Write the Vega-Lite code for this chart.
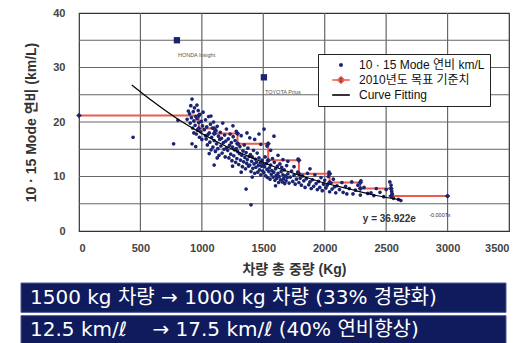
{
  "$schema": "https://vega.github.io/schema/vega-lite/v6.json",
  "padding": {"left": 20, "top": 6, "right": 0, "bottom": 0},
  "background": "white",
  "spacing": 5,
  "config": {
    "font": "Liberation Sans, Noto Sans CJK KR",
    "axis": {"ticks": false, "domain": false, "grid": false,
      "labelFontSize": 11, "labelFontWeight": "bold", "labelColor": "#444", "labelOverlap": false,
      "titleFontSize": 14, "titleFontWeight": "bold", "titleColor": "#333",
      "labelFont": "Liberation Sans", "titleFont": "Liberation Sans, Noto Sans CJK KR"}
  },
  "datasets": {
    "grid": [
      {"gid":"x500","w":500,"fe":0},{"gid":"x500","w":500,"fe":40},
      {"gid":"x1000","w":1000,"fe":0},{"gid":"x1000","w":1000,"fe":40},
      {"gid":"x1500","w":1500,"fe":0},{"gid":"x1500","w":1500,"fe":40},
      {"gid":"x2000","w":2000,"fe":0},{"gid":"x2000","w":2000,"fe":40},
      {"gid":"x2500","w":2500,"fe":0},{"gid":"x2500","w":2500,"fe":40},
      {"gid":"x3000","w":3000,"fe":0},{"gid":"x3000","w":3000,"fe":40},
      {"gid":"y5","w":0,"fe":5},{"gid":"y5","w":3500,"fe":5},
      {"gid":"y10","w":0,"fe":10},{"gid":"y10","w":3500,"fe":10},
      {"gid":"y15","w":0,"fe":15},{"gid":"y15","w":3500,"fe":15},
      {"gid":"y20","w":0,"fe":20},{"gid":"y20","w":3500,"fe":20},
      {"gid":"y25","w":0,"fe":25},{"gid":"y25","w":3500,"fe":25},
      {"gid":"y30","w":0,"fe":30},{"gid":"y30","w":3500,"fe":30},
      {"gid":"y35","w":0,"fe":35},{"gid":"y35","w":3500,"fe":35}
    ],
    "scatter": [
      {"w":440,"fe":17.2},{"w":770,"fe":16.0},{"w":805,"fe":20.3},{"w":1100,"fe":12.1},{"w":1360,"fe":7.7},{"w":1400,"fe":4.8},
      {"w":1074,"fe":21.1},{"w":1253,"fe":19.3},{"w":1465,"fe":17.8},{"w":1367,"fe":18.0},{"w":1506,"fe":18.7},{"w":1587,"fe":17.4},{"w":1783,"fe":13.2},{"w":2035,"fe":10.8},
      {"w":880,"fe":20.5},{"w":890,"fe":22.0},{"w":900,"fe":21.5},{"w":905,"fe":19.8},{"w":910,"fe":23.0},{"w":915,"fe":20.8},{"w":920,"fe":24.2},{"w":925,"fe":18.9},{"w":930,"fe":21.9},{"w":935,"fe":20.2},{"w":940,"fe":22.6},{"w":945,"fe":19.4},{"w":950,"fe":21.0},{"w":955,"fe":17.8},{"w":960,"fe":20.6},{"w":965,"fe":18.5},{"w":970,"fe":22.1},{"w":975,"fe":19.9},{"w":980,"fe":17.2},{"w":985,"fe":21.4},{"w":990,"fe":18.2},{"w":995,"fe":20.1},{"w":1000,"fe":16.8},{"w":1005,"fe":19.3},{"w":1010,"fe":21.8},{"w":920,"fe":16.0},{"w":950,"fe":15.5},{"w":935,"fe":18.0},{"w":960,"fe":23.1},
      {"w":1020,"fe":18.6},{"w":1030,"fe":20.4},{"w":1035,"fe":16.9},{"w":1040,"fe":19.1},{"w":1045,"fe":15.8},{"w":1050,"fe":17.7},{"w":1055,"fe":21.0},{"w":1060,"fe":18.0},{"w":1065,"fe":16.3},{"w":1070,"fe":19.6},{"w":1075,"fe":14.9},{"w":1080,"fe":17.2},{"w":1085,"fe":18.9},{"w":1090,"fe":15.4},{"w":1095,"fe":20.0},{"w":1100,"fe":16.6},{"w":1105,"fe":17.9},{"w":1110,"fe":14.6},{"w":1115,"fe":18.4},{"w":1120,"fe":16.0},{"w":1125,"fe":19.2},{"w":1130,"fe":15.1},{"w":1135,"fe":17.4},{"w":1140,"fe":13.9},{"w":1145,"fe":16.8},{"w":1150,"fe":18.1},{"w":1155,"fe":15.6},{"w":1160,"fe":17.0},{"w":1165,"fe":14.3},{"w":1170,"fe":19.8},{"w":1175,"fe":16.2},{"w":1180,"fe":15.0},{"w":1185,"fe":17.6},{"w":1190,"fe":13.6},{"w":1195,"fe":16.5},{"w":1200,"fe":15.2},{"w":1200,"fe":18.7},{"w":1060,"fe":14.2},{"w":1125,"fe":13.4},{"w":1030,"fe":17.5},
      {"w":1210,"fe":14.8},{"w":1215,"fe":16.9},{"w":1220,"fe":13.4},{"w":1225,"fe":15.7},{"w":1230,"fe":17.8},{"w":1235,"fe":14.1},{"w":1240,"fe":16.2},{"w":1245,"fe":12.9},{"w":1250,"fe":15.4},{"w":1255,"fe":17.3},{"w":1260,"fe":13.8},{"w":1265,"fe":14.9},{"w":1270,"fe":16.6},{"w":1275,"fe":12.6},{"w":1280,"fe":15.1},{"w":1285,"fe":13.3},{"w":1290,"fe":14.6},{"w":1295,"fe":16.0},{"w":1300,"fe":12.2},{"w":1305,"fe":14.2},{"w":1310,"fe":15.5},{"w":1315,"fe":13.0},{"w":1320,"fe":17.5},{"w":1325,"fe":13.9},{"w":1330,"fe":11.8},{"w":1335,"fe":14.7},{"w":1340,"fe":12.7},{"w":1345,"fe":15.8},{"w":1350,"fe":13.5},{"w":1355,"fe":11.4},{"w":1360,"fe":14.4},{"w":1365,"fe":12.4},{"w":1370,"fe":13.1},{"w":1375,"fe":15.2},{"w":1380,"fe":11.9},{"w":1385,"fe":13.7},{"w":1390,"fe":12.1},{"w":1395,"fe":14.0},{"w":1400,"fe":10.9},{"w":1405,"fe":12.8},{"w":1410,"fe":13.6},{"w":1415,"fe":11.5},{"w":1420,"fe":14.8},{"w":1425,"fe":12.3},{"w":1430,"fe":10.6},{"w":1435,"fe":13.2},{"w":1440,"fe":11.7},{"w":1445,"fe":12.6},{"w":1450,"fe":14.3},{"w":1455,"fe":10.8},{"w":1460,"fe":12.0},{"w":1465,"fe":13.4},{"w":1470,"fe":11.2},{"w":1475,"fe":12.5},{"w":1480,"fe":10.3},{"w":1485,"fe":11.9},{"w":1490,"fe":13.0},{"w":1495,"fe":11.0},{"w":1500,"fe":12.2},{"w":1430,"fe":16.8},{"w":1480,"fe":15.9},{"w":1390,"fe":17.1},{"w":1250,"fe":11.9},{"w":1320,"fe":10.8},{"w":1410,"fe":9.9},{"w":1280,"fe":18.3},
      {"w":1505,"fe":10.7},{"w":1510,"fe":11.8},{"w":1515,"fe":13.6},{"w":1520,"fe":10.1},{"w":1525,"fe":12.4},{"w":1530,"fe":11.3},{"w":1535,"fe":9.8},{"w":1540,"fe":12.9},{"w":1545,"fe":10.9},{"w":1550,"fe":11.6},{"w":1555,"fe":9.5},{"w":1560,"fe":12.1},{"w":1565,"fe":10.4},{"w":1570,"fe":11.1},{"w":1575,"fe":13.3},{"w":1580,"fe":9.9},{"w":1585,"fe":10.8},{"w":1590,"fe":12.6},{"w":1595,"fe":9.3},{"w":1600,"fe":11.4},{"w":1605,"fe":10.2},{"w":1610,"fe":9.7},{"w":1615,"fe":11.9},{"w":1620,"fe":10.6},{"w":1625,"fe":8.9},{"w":1630,"fe":10.0},{"w":1635,"fe":12.3},{"w":1640,"fe":9.4},{"w":1645,"fe":10.9},{"w":1650,"fe":11.7},{"w":1655,"fe":9.0},{"w":1660,"fe":10.3},{"w":1665,"fe":9.6},{"w":1670,"fe":11.2},{"w":1675,"fe":8.7},{"w":1680,"fe":10.1},{"w":1685,"fe":9.2},{"w":1690,"fe":12.0},{"w":1695,"fe":9.8},{"w":1700,"fe":10.5},{"w":1710,"fe":8.8},{"w":1720,"fe":9.9},{"w":1730,"fe":11.0},{"w":1740,"fe":9.1},{"w":1750,"fe":10.2},{"w":1760,"fe":8.6},{"w":1770,"fe":9.5},{"w":1780,"fe":10.8},{"w":1790,"fe":8.9},{"w":1800,"fe":9.7},{"w":1560,"fe":14.8},{"w":1620,"fe":13.9},{"w":1700,"fe":12.8},{"w":1750,"fe":11.8},{"w":1600,"fe":8.3},{"w":1530,"fe":15.6},{"w":1660,"fe":13.1},
      {"w":1810,"fe":8.4},{"w":1820,"fe":10.1},{"w":1830,"fe":9.2},{"w":1840,"fe":8.0},{"w":1850,"fe":9.6},{"w":1860,"fe":10.6},{"w":1870,"fe":8.5},{"w":1880,"fe":9.0},{"w":1890,"fe":7.8},{"w":1900,"fe":9.4},{"w":1910,"fe":8.2},{"w":1920,"fe":10.3},{"w":1930,"fe":8.7},{"w":1940,"fe":7.6},{"w":1950,"fe":9.1},{"w":1960,"fe":8.0},{"w":1970,"fe":9.8},{"w":1980,"fe":7.4},{"w":1990,"fe":8.6},{"w":2000,"fe":9.3},{"w":2010,"fe":7.9},{"w":2020,"fe":8.4},{"w":2030,"fe":10.0},{"w":2040,"fe":7.2},{"w":2050,"fe":8.8},{"w":2060,"fe":7.7},{"w":2070,"fe":9.5},{"w":2080,"fe":8.1},{"w":2090,"fe":7.0},{"w":2100,"fe":8.3},{"w":1880,"fe":11.4},
      {"w":2120,"fe":7.6},{"w":2140,"fe":8.9},{"w":2150,"fe":7.1},{"w":2170,"fe":8.2},{"w":2180,"fe":6.8},{"w":2200,"fe":7.8},{"w":2220,"fe":9.0},{"w":2230,"fe":6.8},{"w":2250,"fe":7.5},{"w":2270,"fe":8.4},{"w":2290,"fe":6.6},{"w":2295,"fe":9.2},{"w":2320,"fe":8.0},{"w":2350,"fe":6.9},{"w":2377,"fe":7.0},{"w":2400,"fe":6.5},{"w":2420,"fe":7.8},{"w":2450,"fe":7.1},{"w":2480,"fe":6.3},{"w":2500,"fe":7.6},{"w":2530,"fe":9.0},{"w":2540,"fe":8.4},{"w":2545,"fe":7.3},{"w":2550,"fe":6.8},{"w":2560,"fe":6.0},{"w":2600,"fe":5.8},{"w":2620,"fe":5.6}
    ],
    "standard": [
      {"i":1,"w":0,"fe":21.2},{"i":2,"w":975,"fe":21.2},{"i":3,"w":975,"fe":18.8},{"i":4,"w":1100,"fe":18.8},
      {"i":5,"w":1100,"fe":17.9},{"i":6,"w":1290,"fe":17.9},{"i":7,"w":1290,"fe":16.0},{"i":8,"w":1540,"fe":16.0},
      {"i":9,"w":1540,"fe":13.0},{"i":10,"w":1790,"fe":13.0},{"i":11,"w":1790,"fe":10.5},{"i":12,"w":2040,"fe":10.5},
      {"i":13,"w":2040,"fe":8.9},{"i":14,"w":2290,"fe":8.9},{"i":15,"w":2290,"fe":7.8},{"i":16,"w":2540,"fe":7.8},
      {"i":17,"w":2540,"fe":6.4},{"i":18,"w":3000,"fe":6.4}
    ],
    "curve": [
      {"w":430,"fe":26.8},{"w":600,"fe":23.8},{"w":800,"fe":20.6},{"w":1000,"fe":17.9},{"w":1200,"fe":15.5},{"w":1400,"fe":13.5},
      {"w":1600,"fe":11.7},{"w":1800,"fe":10.2},{"w":2000,"fe":8.8},{"w":2200,"fe":7.7},{"w":2400,"fe":6.6},{"w":2620,"fe":5.7}
    ],
    "special": [
      {"w":797,"fe":35.0,"name":"HONDA Insight"},{"w":1505,"fe":28.2,"name":"TOYOTA Prius"}
    ],
    "equation": [
      {"w":2310,"fe":2.2,"eq":"y = 36.922e","part":"base"},
      {"w":2850,"fe":2.9,"eq":"-0.0007x","part":"exp"}
    ]
  },
  "vconcat": [
    {
      "width": 430,
      "height": 218,
      "view": {"stroke": "#333", "strokeWidth": 1.2},
      "layer": [
        {
          "data": {"name": "grid"},
          "mark": {"type": "line", "stroke": "#666666", "strokeWidth": 1.2, "strokeOpacity": 1, "opacity": 1},
          "encoding": {
            "x": {"field": "w", "type": "quantitative", "scale": {"domain": [0, 3500], "nice": false},
              "axis": {"values": [0,500,1000,1500,2000,2500,3000,3500], "format": "d", "title": "차량 총 중량 (Kg)", "labelPadding": 11, "titlePadding": 9}},
            "y": {"field": "fe", "type": "quantitative", "scale": {"domain": [0, 40], "nice": false},
              "axis": {"values": [0,5,10,15,20,25,30,35,40], "format": "d", "title": "10 · 15 Mode 연비 (km/L)", "labelPadding": 14, "titlePadding": 14}},
            "detail": {"field": "gid", "type": "nominal"}
          }
        },
        {
          "data": {"name": "standard"},
          "mark": {"type": "line", "strokeWidth": 2},
          "encoding": {
            "x": {"field": "w", "type": "quantitative"},
            "y": {"field": "fe", "type": "quantitative"},
            "order": {"field": "i"},
            "stroke": {"datum": "2010년도 목표 기준치", "type": "nominal"}
          }
        },
        {
          "data": {"name": "scatter"},
          "mark": {"type": "point", "filled": true, "size": 55, "opacity": 1, "strokeWidth": 1.5},
          "encoding": {
            "x": {"field": "w", "type": "quantitative"},
            "y": {"field": "fe", "type": "quantitative"},
            "fill": {"datum": "10 · 15 Mode 연비 km/L", "type": "nominal",
              "scale": {"domain": ["10 · 15 Mode 연비 km/L", "2010년도 목표 기준치", "Curve Fitting"], "range": ["#1b2470", "#1b2470", "transparent"]},
              "legend": {"title": null, "orient": "none", "legendX": 239, "legendY": 41,
                "fillColor": "white", "strokeColor": "#222", "padding": 5, "rowPadding": 2,
                "symbolSize": 64, "symbolStrokeWidth": 1.6, "symbolOffset": 12, "labelOffset": 12, "labelFontSize": 12, "labelColor": "#111", "labelLimit": 300,
                "labelFont": "Liberation Sans, Noto Sans CJK KR"}},
            "stroke": {"datum": "10 · 15 Mode 연비 km/L", "type": "nominal",
              "scale": {"domain": ["10 · 15 Mode 연비 km/L", "2010년도 목표 기준치", "Curve Fitting"], "range": ["transparent", "#ec5b4c", "#000000"]},
              "legend": {"title": null, "orient": "none", "legendX": 239, "legendY": 41,
                "fillColor": "white", "strokeColor": "#222", "padding": 5, "rowPadding": 2,
                "symbolSize": 64, "symbolStrokeWidth": 1.6, "symbolOffset": 12, "labelOffset": 12, "labelFontSize": 12, "labelColor": "#111", "labelLimit": 300,
                "labelFont": "Liberation Sans, Noto Sans CJK KR"}},
            "shape": {"datum": "10 · 15 Mode 연비 km/L", "type": "nominal",
              "scale": {"domain": ["10 · 15 Mode 연비 km/L", "2010년도 목표 기준치", "Curve Fitting"], "range": ["M-0.5,0A0.5,0.5 0 1,0 0.5,0A0.5,0.5 0 1,0 -0.5,0Z", "M-2.2,0H2.2M0,-0.8L0.8,0L0,0.8L-0.8,0Z", "M-2.2,0H2.2"]},
              "legend": {"title": null, "orient": "none", "legendX": 239, "legendY": 41,
                "fillColor": "white", "strokeColor": "#222", "padding": 5, "rowPadding": 2,
                "symbolSize": 64, "symbolStrokeWidth": 1.6, "symbolOffset": 12, "labelOffset": 12, "labelFontSize": 12, "labelColor": "#111", "labelLimit": 300,
                "labelFont": "Liberation Sans, Noto Sans CJK KR"}}
          }
        },
        {
          "data": {"name": "standard"},
          "mark": {"type": "point", "shape": "diamond", "filled": true, "size": 30, "color": "#1b2470", "opacity": 1},
          "encoding": {
            "x": {"field": "w", "type": "quantitative"},
            "y": {"field": "fe", "type": "quantitative"}
          }
        },
        {
          "data": {"name": "curve"},
          "mark": {"type": "line", "strokeWidth": 1.2, "interpolate": "monotone"},
          "encoding": {
            "x": {"field": "w", "type": "quantitative"},
            "y": {"field": "fe", "type": "quantitative"},
            "stroke": {"datum": "Curve Fitting", "type": "nominal"}
          }
        },
        {
          "data": {"name": "special"},
          "mark": {"type": "square", "size": 40, "color": "#1b2470", "opacity": 1, "filled": true},
          "encoding": {
            "x": {"field": "w", "type": "quantitative"},
            "y": {"field": "fe", "type": "quantitative"}
          }
        },
        {
          "data": {"name": "special"},
          "mark": {"type": "text", "align": "left", "dx": 1, "dy": 15, "fontSize": 5.5, "color": "#555"},
          "encoding": {
            "x": {"field": "w", "type": "quantitative"},
            "y": {"field": "fe", "type": "quantitative"},
            "text": {"field": "name"}
          }
        },
        {
          "data": {"name": "equation"},
          "transform": [{"filter": "datum.part === 'base'"}],
          "mark": {"type": "text", "align": "left", "baseline": "middle", "fontSize": 10, "fontWeight": "bold", "color": "#333"},
          "encoding": {
            "x": {"field": "w", "type": "quantitative"},
            "y": {"field": "fe", "type": "quantitative"},
            "text": {"field": "eq"}
          }
        },
        {
          "data": {"name": "equation"},
          "transform": [{"filter": "datum.part === 'exp'"}],
          "mark": {"type": "text", "align": "left", "baseline": "middle", "fontSize": 5.5, "color": "#333"},
          "encoding": {
            "x": {"field": "w", "type": "quantitative"},
            "y": {"field": "fe", "type": "quantitative"},
            "text": {"field": "eq"}
          }
        }
      ]
    },
    {
      "width": 430,
      "height": 62,
      "view": {"stroke": null},
      "data": {"values": [
        {"row": 1, "msg": "1500 kg 차량 → 1000 kg 차량 (33% 경량화)"},
        {"row": 2, "msg": "12.5 km/ℓ\u00a0\u00a0\u00a0\u00a0→ 17.5 km/ℓ (40% 연비향상)"}
      ]},
      "encoding": {
        "y": {"field": "row", "type": "ordinal", "axis": null, "scale": {"paddingInner": 0.1, "paddingOuter": 0}}
      },
      "layer": [
        {
          "mark": {"type": "rect", "color": "#0f1b5c", "stroke": "#4a5a98", "strokeWidth": 1},
          "encoding": {
            "x": {"datum": 0, "type": "quantitative", "scale": {"domain": [0, 1], "range": [-58, 427]}, "axis": null},
            "x2": {"datum": 1}
          }
        },
        {
          "mark": {"type": "text", "align": "left", "baseline": "middle", "dx": 9, "color": "white", "fontSize": 20, "font": "DejaVu Sans, Noto Sans CJK KR"},
          "encoding": {
            "x": {"datum": 0, "type": "quantitative"},
            "text": {"field": "msg"}
          }
        }
      ]
    }
  ]
}
